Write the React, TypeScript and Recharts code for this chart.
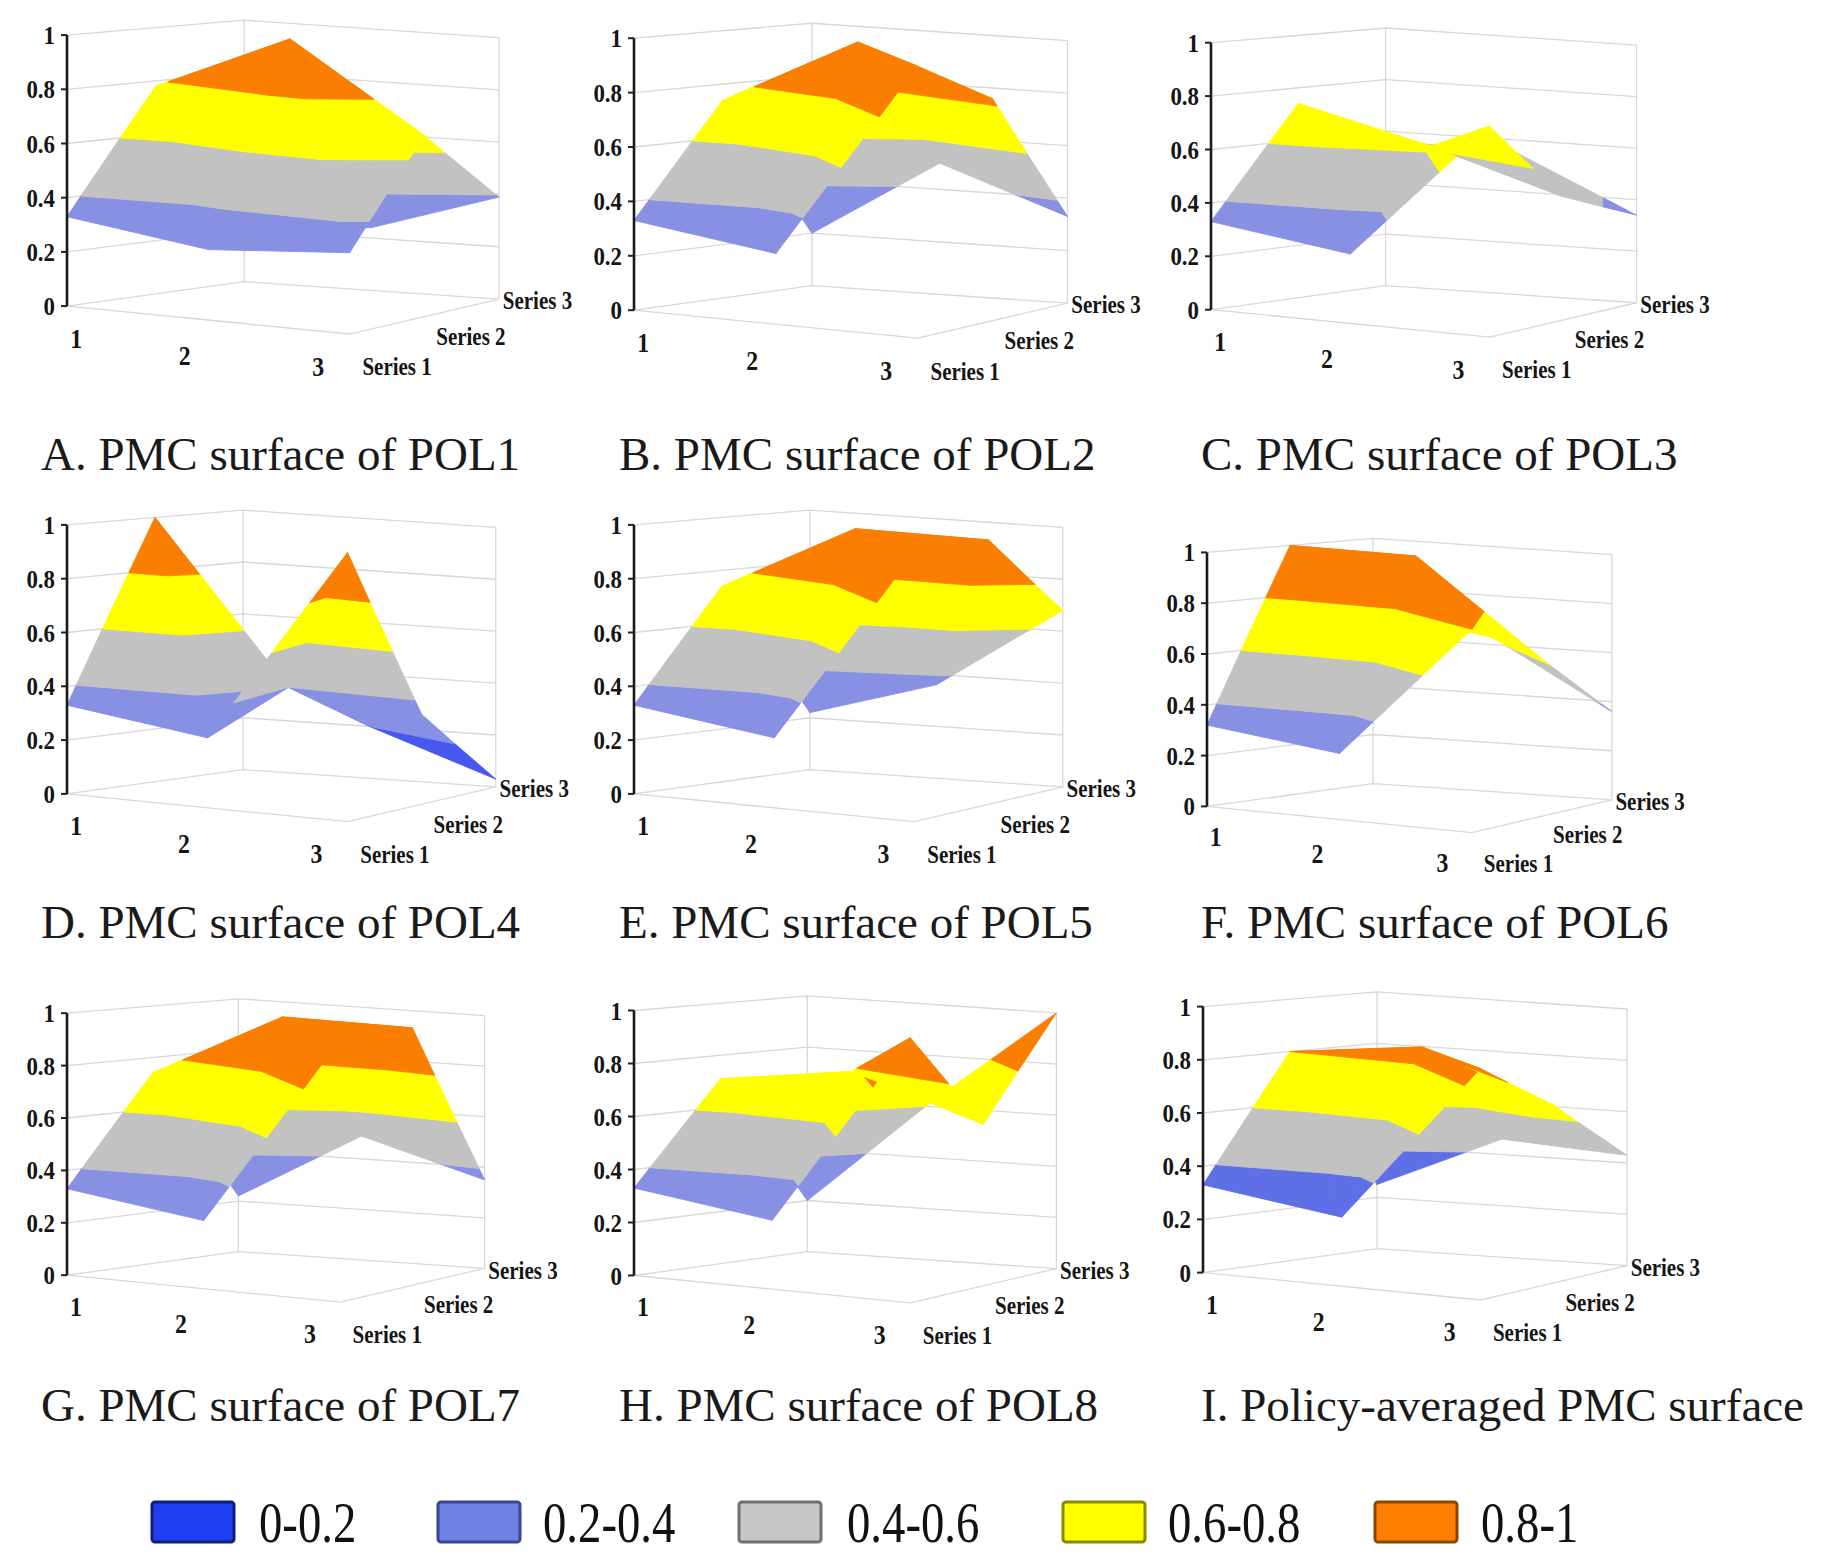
import React from "react";
import { ScatterChart, Scatter, XAxis, YAxis } from "recharts";

// categories run along the front edge, series go back into the chart
const categories = ["1", "2", "3"];
const seriesNames = ["Series 1", "Series 2", "Series 3"];
const zTicks = [0, 0.2, 0.4, 0.6, 0.8, 1];
const bandBreaks = [0, 0.2, 0.4, 0.6, 0.8, 1];
const bandLabels = ["0-0.2", "0.2-0.4", "0.4-0.6", "0.6-0.8", "0.8-1"];

const titles = [
  "A. PMC surface of POL1",
  "B. PMC surface of POL2",
  "C. PMC surface of POL3",
  "D. PMC surface of POL4",
  "E. PMC surface of POL5",
  "F. PMC surface of POL6",
  "G. PMC surface of POL7",
  "H. PMC surface of POL8",
  "I. Policy-averaged PMC surface",
];

// rows: Series 1 (front), Series 2, Series 3 ; columns: category 1, 2, 3
const pol1 = [
  [0.33, 0.26, 0.3],
  [0.78, 1.0, 0.68],
  [0.2, 0.24, 0.39],
];
const pol2 = [
  [0.33, 0.26, 1.0],
  [0.74, 1.0, 0.83],
  [0.2, 0.5, 0.33],
];
const pol3 = [
  [0.33, 0.26, 0.79],
  [0.74, 0.62, 0.47],
  [0.56, 0.56, 0.34],
];
const pol4 = [
  [0.33, 0.26, 1.0],
  [1.0, 0.4, 0.34],
  [0.45, 0.2, 0.03],
];
const pol5 = [
  [0.33, 0.26, 1.0],
  [0.74, 1.0, 1.0],
  [0.22, 0.36, 0.68],
];
const pol6 = [
  [0.32, 0.26, 0.8],
  [1.0, 1.0, 0.63],
  [0.7, 0.63, 0.36],
];
const pol7 = [
  [0.33, 0.26, 1.0],
  [0.74, 1.0, 1.0],
  [0.22, 0.49, 0.35],
];
const pol8 = [
  [0.33, 0.26, 1.0],
  [0.71, 0.78, 0.62],
  [0.2, 0.62, 1.0],
];
const polAvg = [
  [0.33, 0.26, 0.87],
  [0.8, 0.86, 0.68],
  [0.25, 0.46, 0.43],
];
const surfaces = [pol1, pol2, pol3, pol4, pol5, pol6, pol7, pol8, polAvg];

// ---- styling / layout ----
const SURFACE_FILLS = ["#4858ee", "#8890e4", "#c2c2c2", "#ffff00", "#fa7f00"];
const AVG_FILLS = ["#4858ee", "#5f6fe6", "#c2c2c2", "#ffff00", "#fa7f00"];
const LEGEND_FILLS = ["#1f3ef2", "#7080e0", "#c6c6c6", "#ffff00", "#ff8000"];
const LEGEND_EDGES = ["#10207a", "#3a4690", "#707070", "#8a8a00", "#8a4500"];
const GRID = "#d8d8d8";
const SERIF = "'Liberation Serif', 'Times New Roman', serif";

// front-left corner of each panel on the page and pixels per unit of height
const panelBoxes = [
  { ox: 67, oy: 306, u: 271 },
  { ox: 634, oy: 310, u: 272 },
  { ox: 1211, oy: 310, u: 267 },
  { ox: 67, oy: 794, u: 269 },
  { ox: 634, oy: 794, u: 269 },
  { ox: 1207, oy: 806, u: 254 },
  { ox: 67, oy: 1275, u: 262 },
  { ox: 634, oy: 1275, u: 265 },
  { ox: 1203, oy: 1273, u: 266 },
];
const titleSpots = [
  [41, 470], [619, 470], [1201, 470],
  [41, 938], [619, 938], [1201, 938],
  [41, 1421], [619, 1421], [1201, 1421],
];
const legendBoxX = [152, 438, 739, 1063, 1375];
const legendTextX = [259, 543, 847, 1168, 1481];

// floor corners of the 3-D box (units of the z-axis height), y pointing up
const FL = [0, 0];
const FR = [1.043, -0.103];
const BL = [0.654, 0.09];
const BR = [1.594, 0.026];
const BACK_H = 0.965;
const CAT_OFFSET = [[0.034, -0.12], [-0.087, -0.134], [-0.116, -0.121]];
const SER_OFFSET = [[0.047, -0.121], [0.044, -0.073], [0.014, -0.006]];

const X_MAX = 2.15;
const Y_MIN = -0.36;
const Y_MAX = 1.1;
const AXIS_W = 60;

type P3 = { X: number; Y: number; Z: number };

function project(X: number, Y: number, Z: number) {
  const fx = FL[0] + (FR[0] - FL[0]) * X;
  const fy = FL[1] + (FR[1] - FL[1]) * X;
  const bx = BL[0] + (BR[0] - BL[0]) * X;
  const by = BL[1] + (BR[1] - BL[1]) * X;
  const h = 1 + (BACK_H - 1) * Y;
  return { x: fx + (bx - fx) * Y, y: fy + (by - fy) * Y + Z * h };
}

function clipBy(poly: P3[], f: (p: P3) => number): P3[] {
  const out: P3[] = [];
  for (let k = 0; k < poly.length; k++) {
    const a = poly[k];
    const b = poly[(k + 1) % poly.length];
    const fa = f(a);
    const fb = f(b);
    if (fa >= 0) out.push(a);
    if (fa >= 0 !== fb >= 0) {
      const t = fa / (fa - fb);
      out.push({ X: a.X + (b.X - a.X) * t, Y: a.Y + (b.Y - a.Y) * t, Z: a.Z + (b.Z - a.Z) * t });
    }
  }
  return out;
}

// distance from the viewer measured on the floor plane (bigger = further)
const depthOf = (tri: P3[]) =>
  tri.reduce((s, p) => s - 0.874 * p.X + 0.766 * p.Y, 0) / tri.length;

function buildSurface(vals: number[][]) {
  const tris: P3[][] = [];
  const pt = (i: number, j: number): P3 => ({ X: i / 2, Y: j / 2, Z: vals[j][i] });
  for (let j = 0; j < 2; j++) {
    for (let i = 0; i < 2; i++) {
      const a = pt(i, j), b = pt(i + 1, j), c = pt(i + 1, j + 1), d = pt(i, j + 1);
      // split each cell along its front-right / back-left diagonal
      tris.push([a, b, d], [b, c, d]);
    }
  }
  tris.sort((p, q) => depthOf(q) - depthOf(p));
  const polys: { band: number; pts: { x: number; y: number }[] }[] = [];
  tris.forEach((tri) => {
    for (let k = 0; k < bandLabels.length; k++) {
      const lo = k === 0 ? -9 : bandBreaks[k];
      const hi = k === bandLabels.length - 1 ? 9 : bandBreaks[k + 1];
      let poly = clipBy(tri, (p) => p.Z - lo);
      poly = clipBy(poly, (p) => hi - p.Z);
      if (poly.length >= 3) polys.push({ band: k, pts: poly.map((p) => project(p.X, p.Y, p.Z)) });
    }
  });
  return polys;
}

const noDot = () => <g />;

const toPath = (pts: { x: number; y: number }[]) =>
  pts.map((p, k) => `${k === 0 ? "M" : "L"}${p.x},${p.y}`).join(" ") + " Z";

const ZTick = (props: any) => {
  const { x, y, payload } = props;
  return (
    <text
      transform={`translate(${x - 4},${y}) scale(0.88,1)`}
      textAnchor="end"
      dominantBaseline="central"
      fontFamily={SERIF}
      fontWeight="bold"
      fontSize={26}
      fill="#151515"
    >
      {String(payload.value)}
    </text>
  );
};

const CatLabel = (props: any) => (
  <text
    transform={`translate(${props.cx},${props.cy}) scale(0.88,1)`}
    textAnchor="middle"
    dominantBaseline="central"
    fontFamily={SERIF}
    fontWeight="bold"
    fontSize={27}
    fill="#151515"
  >
    {props.payload.t}
  </text>
);

const SerLabel = (props: any) => (
  <text
    transform={`translate(${props.cx},${props.cy}) scale(0.84,1)`}
    textAnchor="start"
    dominantBaseline="central"
    fontFamily={SERIF}
    fontWeight="bold"
    fontSize={25}
    fill="#151515"
  >
    {props.payload.t}
  </text>
);

function SurfacePanel({ values, box, fills }: { values: number[][]; box: { ox: number; oy: number; u: number }; fills: string[] }) {
  const width = AXIS_W + X_MAX * box.u;
  const height = (Y_MAX - Y_MIN) * box.u;
  const polys = buildSurface(values);

  const gridLines = zTicks.map((z) => [project(0, 0, z), project(0, 1, z), project(1, 1, z)]);
  const edges = [
    [project(0, 1, 0), project(0, 1, 1)],
    [project(1, 1, 0), project(1, 1, 1)],
    [project(0, 0, 0), project(1, 0, 0), project(1, 1, 0)],
  ];
  const zAxis = [project(0, 0, 0), project(0, 0, 1)];
  const catLabels = categories.map((t, k) => {
    const p = project(k / 2, 0, 0);
    return { x: p.x + CAT_OFFSET[k][0], y: p.y + CAT_OFFSET[k][1], t };
  });
  const serLabels = seriesNames.map((t, k) => {
    const p = project(1, k / 2, 0);
    return { x: p.x + SER_OFFSET[k][0], y: p.y + SER_OFFSET[k][1], t };
  });

  return (
    <div style={{ position: "absolute", left: box.ox - AXIS_W, top: box.oy - Y_MAX * box.u }}>
      <ScatterChart width={width} height={height} margin={{ top: 0, right: 0, bottom: 0, left: 0 }}>
        <XAxis type="number" dataKey="x" domain={[0, X_MAX]} hide />
        <YAxis
          type="number"
          dataKey="y"
          domain={[Y_MIN, Y_MAX]}
          ticks={zTicks}
          interval={0}
          width={AXIS_W}
          axisLine={false}
          tickLine={{ stroke: "#222", strokeWidth: 2 }}
          tickSize={6}
          tick={(p: any) => <ZTick {...p} />}
        />
        {gridLines.map((pts, k) => (
          <Scatter key={`g${k}`} data={pts} line={{ stroke: GRID, strokeWidth: 1.3 }} shape={noDot} isAnimationActive={false} />
        ))}
        {edges.map((pts, k) => (
          <Scatter key={`e${k}`} data={pts} line={{ stroke: GRID, strokeWidth: 1.3 }} shape={noDot} isAnimationActive={false} />
        ))}
        {polys.map((poly, k) => (
          <Scatter
            key={`s${k}`}
            data={poly.pts}
            shape={noDot}
            isAnimationActive={false}
            line={(lp: any) => (
              <path
                d={toPath(lp.points)}
                fill={fills[poly.band]}
                stroke={fills[poly.band]}
                strokeWidth={0.9}
                strokeLinejoin="round"
              />
            )}
          />
        ))}
        <Scatter data={zAxis} line={{ stroke: "#1a1a1a", strokeWidth: 2.6 }} shape={noDot} isAnimationActive={false} />
        <Scatter data={catLabels} shape={CatLabel} isAnimationActive={false} />
        <Scatter data={serLabels} shape={SerLabel} isAnimationActive={false} />
      </ScatterChart>
    </div>
  );
}

export default function App() {
  return (
    <div style={{ position: "absolute", left: 0, top: 0, width: 1831, height: 1566, background: "#fff" }}>
      <svg width={1831} height={1566} style={{ position: "absolute", left: 0, top: 0 }}>
        {titles.map((t, k) => (
          <text key={t} x={titleSpots[k][0]} y={titleSpots[k][1]} fontFamily={SERIF} fontSize={47} fill="#1a1a1a">
            {t}
          </text>
        ))}
        {bandLabels.map((t, k) => (
          <g key={t}>
            <rect
              x={legendBoxX[k]}
              y={1502}
              width={82}
              height={40}
              fill={LEGEND_FILLS[k]}
              stroke={LEGEND_EDGES[k]}
              strokeWidth={3}
              rx={3}
            />
            <text
              transform={`translate(${legendTextX[k]},1542) scale(0.82,1)`}
              fontFamily={SERIF}
              fontSize={57}
              fill="#111"
            >
              {t}
            </text>
          </g>
        ))}
      </svg>
      {surfaces.map((vals, k) => (
        <SurfacePanel key={k} values={vals} box={panelBoxes[k]} fills={k === 8 ? AVG_FILLS : SURFACE_FILLS} />
      ))}
    </div>
  );
}
